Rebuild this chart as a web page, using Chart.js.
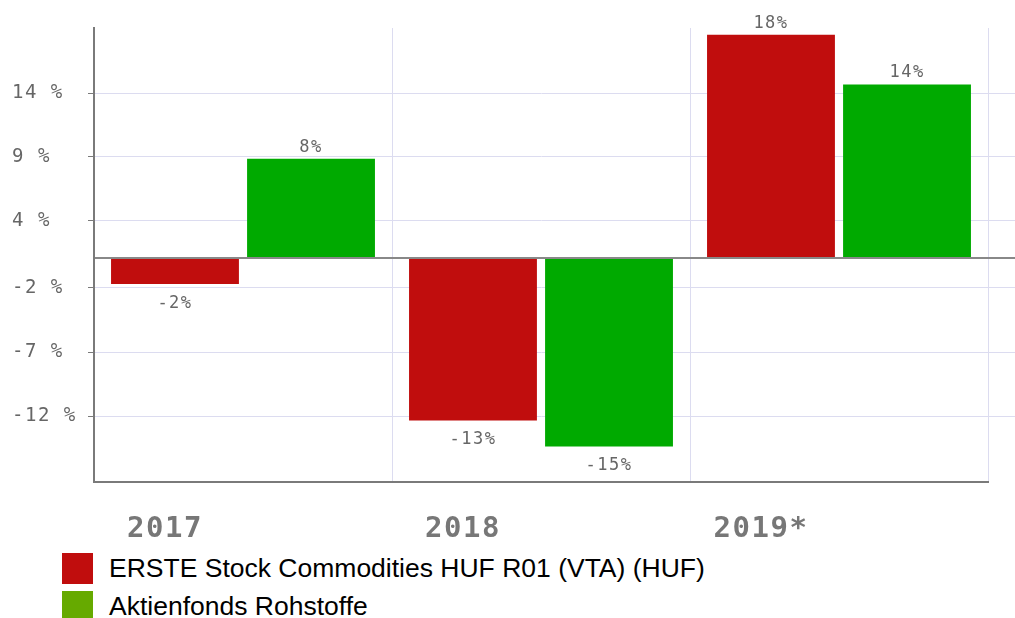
<!DOCTYPE html>
<html lang="de">
<head>
    <meta charset="UTF-8">
    <title>Wertentwicklung</title>
    <script src="https://cdn.jsdelivr.net/npm/chart.js@4.4.0/dist/chart.umd.min.js"></script>
    <style>
        body { margin: 0; background: #fff; }
        #wrap { position: relative; width: 1015px; height: 618px; overflow: hidden; }
        canvas { display: block; }
        #legend { position: absolute; left: 62px; top: 549.5px; font-family: "Liberation Sans", Arial, sans-serif; font-size: 26.5px; color: #000; }
        .item { display: flex; align-items: center; height: 38px; }
        .box { width: 31px; height: 31px; margin-right: 16px; flex: none; }
    </style>
</head>
<body>
<div id="wrap">
    <canvas id="myChart" width="1015" height="548"></canvas>
    <div id="legend"></div>
</div>
<script>
    // data
    const years = ['2017', '2018', '2019*'];
    const seriesNames = ['ERSTE Stock Commodities HUF R01 (VTA) (HUF)', 'Aktienfonds Rohstoffe'];
    const ersteValues = [-2.1, -13.1, 18.0];
    const aktienValues = [8.0, -15.2, 14.0];
    const ersteLabels = ['-2%', '-13%', '18%'];
    const aktienLabels = ['8%', '-15%', '14%'];
    const yTickValues = [13.3, 8.15, 3.0, -2.4, -7.6, -12.75];
    const yTickLabels = ['14 %', '9 %', '4 %', '-2 %', '-7 %', '-12 %'];

    const barColors = ['#c00d0d', '#00aa00'];
    const legendColors = ['#c00d0d', '#66aa00'];
    const gridColor = '#dcdcf0';
    const axisColor = '#7a7a7a';
    const monoFont = '"DejaVu Sans Mono", monospace';

    function alignPx(p, w) {
        return Math.round(p - w / 2) + w / 2;
    }

    // etwas breitere Schrift wie im Original
    const spacing = {
        id: 'spacing',
        beforeDraw(chart) { chart.ctx.letterSpacing = '1.5px'; },
        afterDraw(chart) { chart.ctx.letterSpacing = '0px'; }
    };

    // Prozent-Beschriftungen an den Balken
    const valueLabels = {
        id: 'valueLabels',
        afterDatasetsDraw(chart) {
            const ctx = chart.ctx;
            const texts = [ersteLabels, aktienLabels];
            ctx.save();
            ctx.font = '17px ' + monoFont;
            ctx.fillStyle = '#666';
            ctx.textAlign = 'center';
            chart.data.datasets.forEach((ds, i) => {
                chart.getDatasetMeta(i).data.forEach((bar, j) => {
                    if (ds.data[j] >= 0) {
                        ctx.textBaseline = 'bottom';
                        ctx.fillText(texts[i][j], bar.x, bar.y - 3);
                    } else {
                        ctx.textBaseline = 'top';
                        ctx.fillText(texts[i][j], bar.x, bar.y + 11);
                    }
                });
            });
            ctx.restore();
        }
    };

    // horizontale Linien bis zum rechten Rand verlängern
    const extendGrid = {
        id: 'extendGrid',
        beforeDatasetsDraw(chart) {
            const ctx = chart.ctx;
            const yScale = chart.scales.y;
            const right = chart.chartArea.right;
            ctx.save();
            yScale.ticks.forEach(t => {
                const lw = t.value === 0 ? 2 : 1;
                const y = alignPx(yScale.getPixelForValue(t.value), lw);
                ctx.strokeStyle = t.value === 0 ? '#888' : gridColor;
                ctx.lineWidth = lw;
                ctx.beginPath();
                ctx.moveTo(right, y);
                ctx.lineTo(chart.width, y);
                ctx.stroke();
            });
            ctx.restore();
        }
    };

    const ctx = document.getElementById('myChart').getContext('2d');
    const myChart = new Chart(ctx, {
        type: 'bar',
        data: {
            labels: years,
            datasets: [
                {
                    label: seriesNames[0],
                    data: ersteValues,
                    backgroundColor: barColors[0],
                    categoryPercentage: 0.913,
                    barPercentage: 0.94
                },
                {
                    label: seriesNames[1],
                    data: aktienValues,
                    backgroundColor: barColors[1],
                    categoryPercentage: 0.913,
                    barPercentage: 0.94
                }
            ]
        },
        options: {
            responsive: false,
            animation: false,
            devicePixelRatio: 1,
            layout: {
                padding: { left: 12, top: 28, right: 27, bottom: 0 }
            },
            scales: {
                x: {
                    grid: { offset: true, color: gridColor, drawTicks: false },
                    border: { display: true, color: axisColor, width: 2 },
                    ticks: {
                        padding: 30,
                        labelOffset: -78,
                        color: '#777',
                        font: { family: monoFont, size: 29, weight: 'bold' }
                    },
                    afterFit: scale => { scale.height = 66; }
                },
                y: {
                    min: -18.06,
                    max: 18.55,
                    afterBuildTicks: scale => {
                        scale.ticks = yTickValues.concat([0]).map(v => ({ value: v }));
                    },
                    grid: {
                        color: c => c.tick && c.tick.value === 0 ? '#888' : gridColor,
                        lineWidth: c => c.tick && c.tick.value === 0 ? 2 : 1,
                        tickColor: c => c.tick && c.tick.value === 0 ? 'transparent' : axisColor,
                        tickLength: 6
                    },
                    border: { display: true, color: axisColor, width: 2 },
                    ticks: {
                        crossAlign: 'far',
                        color: '#666',
                        font: { family: monoFont, size: 19 },
                        callback: value => {
                            const i = yTickValues.indexOf(value);
                            return i >= 0 ? yTickLabels[i] : '';
                        }
                    },
                    afterFit: scale => { scale.width = 82; }
                }
            },
            plugins: {
                legend: { display: false },
                tooltip: { enabled: false }
            }
        },
        plugins: [spacing, valueLabels, extendGrid]
    });

    // Legende unter dem Diagramm
    const legend = document.getElementById('legend');
    seriesNames.forEach((name, i) => {
        const row = document.createElement('div');
        row.className = 'item';
        const box = document.createElement('span');
        box.className = 'box';
        box.style.background = legendColors[i];
        const txt = document.createElement('span');
        txt.textContent = name;
        row.appendChild(box);
        row.appendChild(txt);
        legend.appendChild(row);
    });
</script>
</body>
</html>
